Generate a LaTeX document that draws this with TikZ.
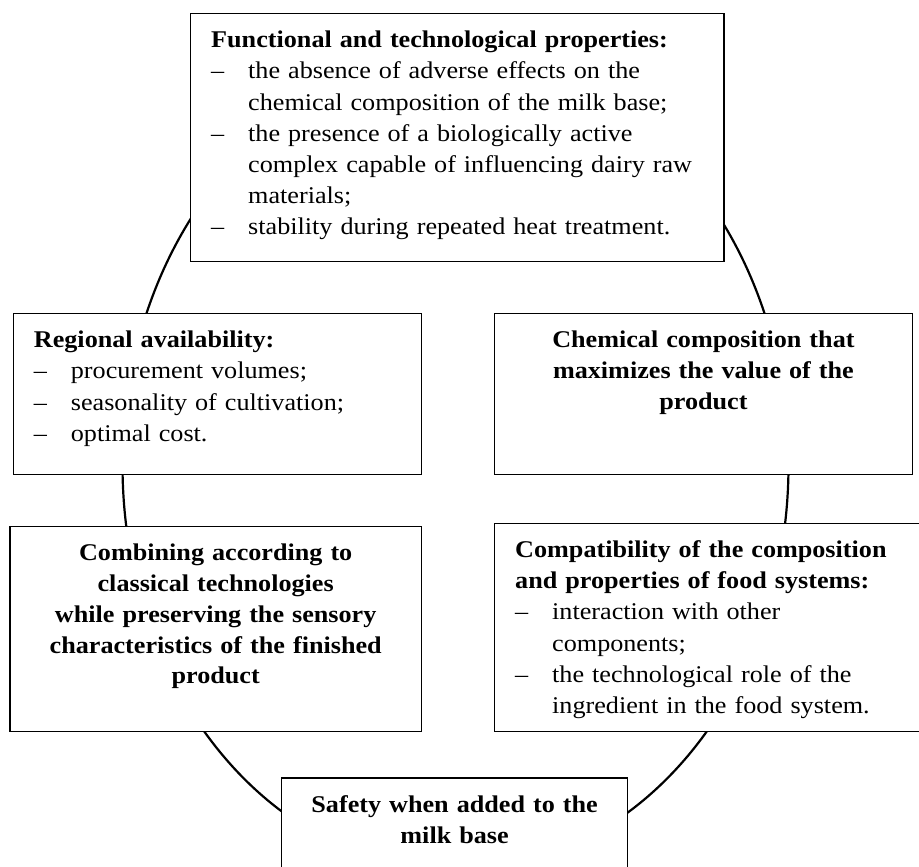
\documentclass[tikz,border=0pt]{standalone}
\usepackage{fontspec}
\setmainfont{Liberation Serif}[FakeStretch=1.09]
% dash item with hanging indent, lines broken by \newline
\newcommand{\dashitem}{\par\hangindent=18.5pt\hangafter=1\noindent\makebox[18.5pt][l]{–}}

\begin{document}
\begin{tikzpicture}[x=0.5pt, y=-0.5pt,
  box/.style={draw, line width=0.6pt, fill=white, anchor=north west,
    inner xsep=10.3pt, inner ysep=0pt, text height=17.2pt, align=left,
    font=\fontsize{12}{15.6}\selectfont},
  head/.style={box, align=center, font=\fontsize{12}{15.4}\selectfont\bfseries},
  ring/.style={line width=1.1pt}]
\useasboundingbox (0,0) rectangle (919,866);
% ring behind the boxes
\draw[ring] (455.5,465) ellipse [x radius=166.5pt, y radius=203pt];

\node[box, text width=246.1pt, text depth=106.8pt] (func) at (190,12.7)
  {\textbf{Functional and technological properties:}
   \dashitem the absence of adverse effects on the\newline chemical composition of the milk base;
   \dashitem the presence of a biologically active\newline complex capable of influencing dairy raw\newline materials;
   \dashitem stability during repeated heat treatment.\par};
\node[box, text width=183.6pt, text depth=63.3pt] (region) at (12.7,312.7)
  {\textbf{Regional availability:}
   \dashitem procurement volumes;
   \dashitem seasonality of cultivation;
   \dashitem optimal cost.\par};
\node[head, text width=188.2pt, text depth=63.3pt] (chem) at (494,312.7)
  {Chemical composition that\\maximizes the value of the\\product};
\node[head, text width=185.2pt, text depth=85.5pt] (combine) at (9.3,525.7)
  {Combining according to\\classical technologies\\while preserving the sensory\\characteristics of the finished\\product};
\node[box, text width=199.4pt, text depth=87pt] (compat) at (494,522.5)
  {\textbf{Compatibility of the composition}\\\textbf{and properties of food systems:}
   \dashitem interaction with other\newline components;
   \dashitem the technological role of the\newline ingredient in the food system.\par};
\node[head, text width=152.4pt, text depth=32.8pt] (safety) at (281,777.3)
  {Safety when added to the\\milk base};
\end{tikzpicture}
\end{document}
